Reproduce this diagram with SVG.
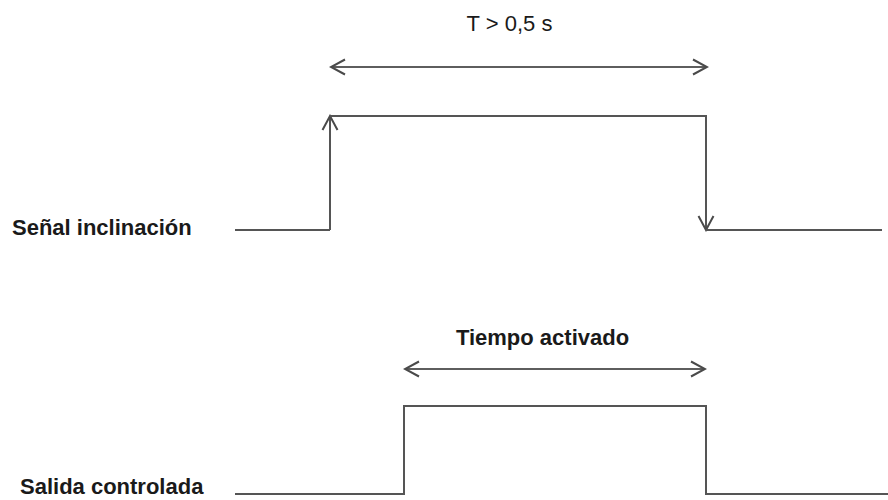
<svg xmlns="http://www.w3.org/2000/svg" width="888" height="500" viewBox="0 0 888 500">
  <style>
    .bg { fill: #ffffff; }
    .lbl { font-family: "Liberation Sans", Arial, sans-serif; font-size: 22px; fill: #1a1a1a; }
    .bold { font-weight: bold; }
    .wave { fill: none; stroke: #555555; stroke-width: 2; stroke-linejoin: miter; }
    .dim { fill: none; stroke: #5e5e5e; stroke-width: 2; }
  </style>
  <defs>
    <marker id="open" viewBox="-16 -9 18 18" markerWidth="18" markerHeight="18" refX="0" refY="0" orient="auto-start-reverse" markerUnits="userSpaceOnUse">
      <path d="M-14,-7.5 L0,0 L-14,7.5" fill="none" stroke="#4a4a4a" stroke-width="2"/>
    </marker>
  </defs>
  <rect class="bg" x="0" y="0" width="888" height="500"/>

  <g id="label-t">
    <text class="lbl" x="509.5" y="31" text-anchor="middle">T &gt; 0,5 s</text>
  </g>
  <g id="label-senal">
    <text class="lbl bold" x="12" y="235">Señal inclinación</text>
  </g>
  <g id="label-tiempo">
    <text class="lbl bold" x="542.5" y="345" text-anchor="middle">Tiempo activado</text>
  </g>
  <g id="label-salida">
    <text class="lbl bold" x="20" y="494">Salida controlada</text>
  </g>

  <g id="signal-inclinacion">
    <path class="wave" d="M235,230 H330"/>
    <path class="wave" d="M330,230 V116" marker-end="url(#open)"/>
    <path class="wave" d="M330,116 H706 V230"/>
    <path class="wave" d="M706,116 V230" marker-end="url(#open)"/>
    <path class="wave" d="M706,230 H882"/>
  </g>

  <g id="signal-salida">
    <path class="wave" d="M235,494 H404 V406 H706 V494 H888"/>
  </g>

  <g id="connectors">
    <path class="dim" d="M331,67 H707" marker-start="url(#open)" marker-end="url(#open)"/>
    <path class="dim" d="M405,369 H705" marker-start="url(#open)" marker-end="url(#open)"/>
  </g>
</svg>
